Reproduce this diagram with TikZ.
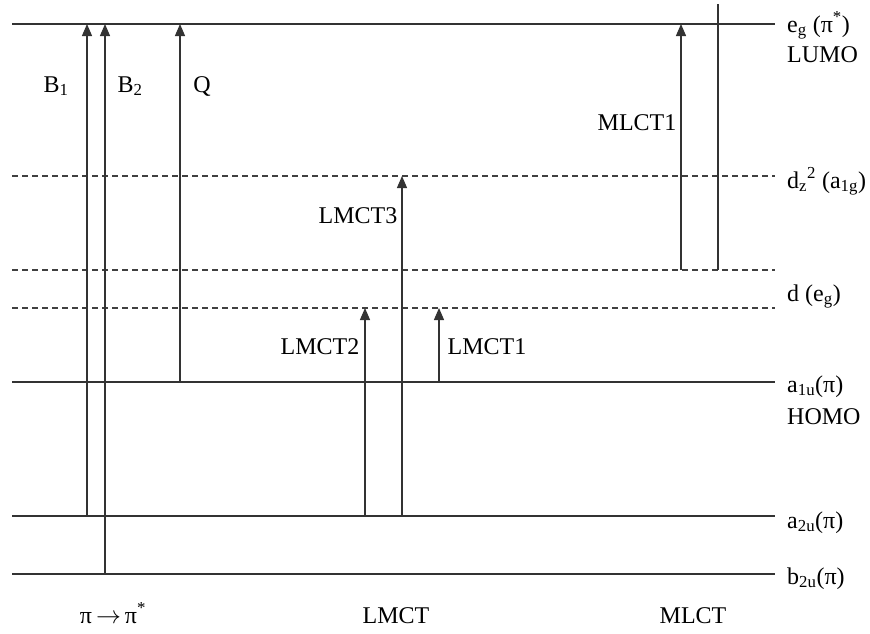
\documentclass[tikz,border=0pt]{standalone}
\usepackage{fontspec}
\setmainfont{Liberation Serif}
\usetikzlibrary{arrows.meta}
\begin{document}
\begin{tikzpicture}[x=1pt,y=-1pt,
  level/.style={line width=1.4pt, draw=black!80},
  dlevel/.style={line width=1.2pt, draw=black!75, dash pattern=on 6pt off 4pt},
  trans/.style={line width=1.3pt, draw=black!80, -{Triangle[width=10pt,length=12pt]}},
  plainline/.style={line width=1.3pt, draw=black!80},
  lbl/.style={font=\fontsize{24}{27}\selectfont, inner sep=0pt, anchor=base},
  rlbl/.style={lbl, anchor=base west}]
\useasboundingbox (0,0) rectangle (870,633);
% energy levels
\coordinate (lumoL) at (12,24);   \coordinate (lumoR) at (775,24);
\coordinate (dzL) at (12,176);    \coordinate (dzR) at (775,176);
\coordinate (duL) at (12,270);    \coordinate (duR) at (775,270);
\coordinate (deL) at (12,308);    \coordinate (deR) at (775,308);
\coordinate (homoL) at (12,382);  \coordinate (homoR) at (775,382);
\coordinate (a2L) at (12,516);    \coordinate (a2R) at (775,516);
\coordinate (b2L) at (12,574);    \coordinate (b2R) at (775,574);
\draw[level] (lumoL) -- (lumoR);
\draw[dlevel] (dzL) -- (dzR);
\draw[dlevel] (duL) -- (duR);
\draw[dlevel] (deL) -- (deR);
\draw[level] (homoL) -- (homoR);
\draw[level] (a2L) -- (a2R);
\draw[level] (b2L) -- (b2R);
% transition end points
\coordinate (b1s) at (87,516);   \coordinate (b1e) at (87,24);
\coordinate (b2s) at (105,574);  \coordinate (b2e) at (105,24);
\coordinate (qs) at (180,382);   \coordinate (qe) at (180,24);
\coordinate (l2s) at (365,516);  \coordinate (l2e) at (365,308);
\coordinate (l3s) at (402,516);  \coordinate (l3e) at (402,176);
\coordinate (l1s) at (439,382);  \coordinate (l1e) at (439,308);
\coordinate (m1s) at (681,270);  \coordinate (m1e) at (681,24);
\coordinate (vs) at (718,270);   \coordinate (ve) at (718,4);
\draw[trans] (b1s) -- (b1e);
\draw[trans] (b2s) -- (b2e);
\draw[trans] (qs) -- (qe);
\draw[trans] (l2s) -- (l2e);
\draw[trans] (l3s) -- (l3e);
\draw[trans] (l1s) -- (l1e);
\draw[trans] (m1s) -- (m1e);
\draw[plainline] (vs) -- (ve);
% transition labels
\node[lbl] (tB1) at (56,92) {B\textsubscript{1}};
\node[lbl] (tB2) at (130,92) {B\textsubscript{2}};
\node[lbl] (tQ) at (202,92) {Q};
\node[lbl] (tM1) at (637,130) {MLCT1};
\node[lbl] (tL3) at (358,223) {LMCT3};
\node[lbl] (tL2) at (320,354) {LMCT2};
\node[lbl] (tL1) at (487,354) {LMCT1};
% level labels
\node[rlbl] (rEg) at (787,32) {e\textsubscript{g} (π\textsuperscript{*})};
\node[rlbl] (rLumo) at (787,62) {LUMO};
\node[rlbl] (rDz) at (787,188) {d\textsubscript{z}\textsuperscript{2} (a\textsubscript{1g})};
\node[rlbl] (rDe) at (787,301) {d (e\textsubscript{g})};
\node[rlbl] (rA1) at (787,392) {a\textsubscript{1u}(π)};
\node[rlbl] (rHomo) at (787,424) {HOMO};
\node[rlbl] (rA2) at (787,528) {a\textsubscript{2u}(π)};
\node[rlbl] (rB2) at (787,584) {b\textsubscript{2u}(π)};
% bottom labels
\node[lbl] (bPi) at (113,623) {π\,$\rightarrow$\,π\textsuperscript{*}};
\node[lbl] (bL) at (396,623) {LMCT};
\node[lbl] (bM) at (693,623) {MLCT};
\end{tikzpicture}
\end{document}
